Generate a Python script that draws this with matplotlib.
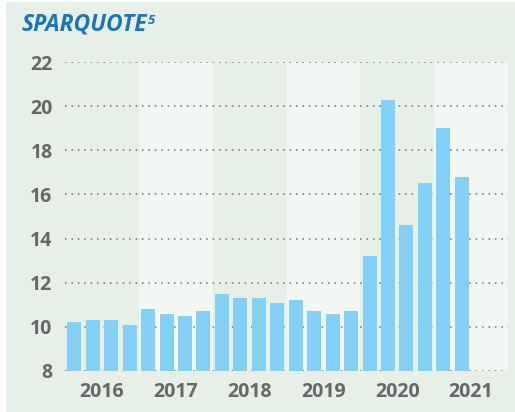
import matplotlib.pyplot as plt
from matplotlib.patches import Rectangle

# Sparquote, quarterly values 2016 Q1 - 2021 Q2
quarters = ["2016Q1", "2016Q2", "2016Q3", "2016Q4",
            "2017Q1", "2017Q2", "2017Q3", "2017Q4",
            "2018Q1", "2018Q2", "2018Q3", "2018Q4",
            "2019Q1", "2019Q2", "2019Q3", "2019Q4",
            "2020Q1", "2020Q2", "2020Q3", "2020Q4",
            "2021Q1", "2021Q2"]
values = [10.2, 10.3, 10.3, 10.1,
          10.8, 10.6, 10.5, 10.7,
          11.5, 11.3, 11.3, 11.1,
          11.2, 10.7, 10.6, 10.7,
          13.2, 20.3, 14.6, 16.5,
          19.0, 16.8]
years = ["2016", "2017", "2018", "2019", "2020", "2021"]
yticks = [8, 10, 12, 14, 16, 18, 20, 22]

dark_bg = "#e6efe8"
light_bg = "#f2f7f3"
bar_color = "#83cff5"
text_gray = "#676767"
title_blue = "#1b75bc"

plt.rcParams['font.family'] = ['Open Sans', 'DejaVu Sans']

fig = plt.figure(figsize=(5.15, 4.12), dpi=100)
fig.patch.set_facecolor("white")
fig.patches.append(Rectangle((6 / 515, 0), 1, 410 / 412, transform=fig.transFigure,
                             facecolor=dark_bg, edgecolor="none", zorder=-5))

ax = fig.add_axes([65 / 515, 41 / 412, 443 / 515, 309 / 412])
ax.set_facecolor("none")

# alternating year bands
for i, yr in enumerate(years):
    col = dark_bg if i % 2 == 0 else light_bg
    ax.axvspan(i * 4 - 0.5, i * 4 + 3.5, color=col, zorder=0, lw=0)

x = list(range(len(values)))
ax.bar(x, [v - 8 for v in values], bottom=8, width=0.76, color=bar_color, zorder=3)

ax.set_xlim(-0.5, len(years) * 4 - 0.5)
ax.set_ylim(8, 22)

for y in yticks:
    ax.axhline(y, color="#6f6f6f", lw=1.1, ls=(0, (1, 3.2)), zorder=2)

ax.set_yticks(yticks)
ax.set_yticklabels([str(t) for t in yticks], fontsize=14, fontweight="bold", color=text_gray)
ax.set_xticks([i * 4 + 1.5 for i in range(len(years))])
ax.set_xticklabels(years, fontsize=14, fontweight="bold", color=text_gray)
ax.tick_params(length=0)
ax.tick_params(axis="y", pad=9)
ax.tick_params(axis="x", pad=8)
for s in ax.spines.values():
    s.set_visible(False)

# title with small superscript
t1 = fig.text(22 / 515, 1 - 24.5 / 412, "SPARQUOTE", fontsize=16.5, fontweight="bold",
              fontstyle="italic", color=title_blue, va="center", ha="left")
fig.canvas.draw()
bb = t1.get_window_extent()
fig.text((bb.x1 + 0.5) / 515, (412 - 14) / 412, "5", fontsize=9.5, fontweight="bold",
         fontstyle="italic", color=title_blue, va="top", ha="left")

fig.savefig("out.png", dpi=100)
